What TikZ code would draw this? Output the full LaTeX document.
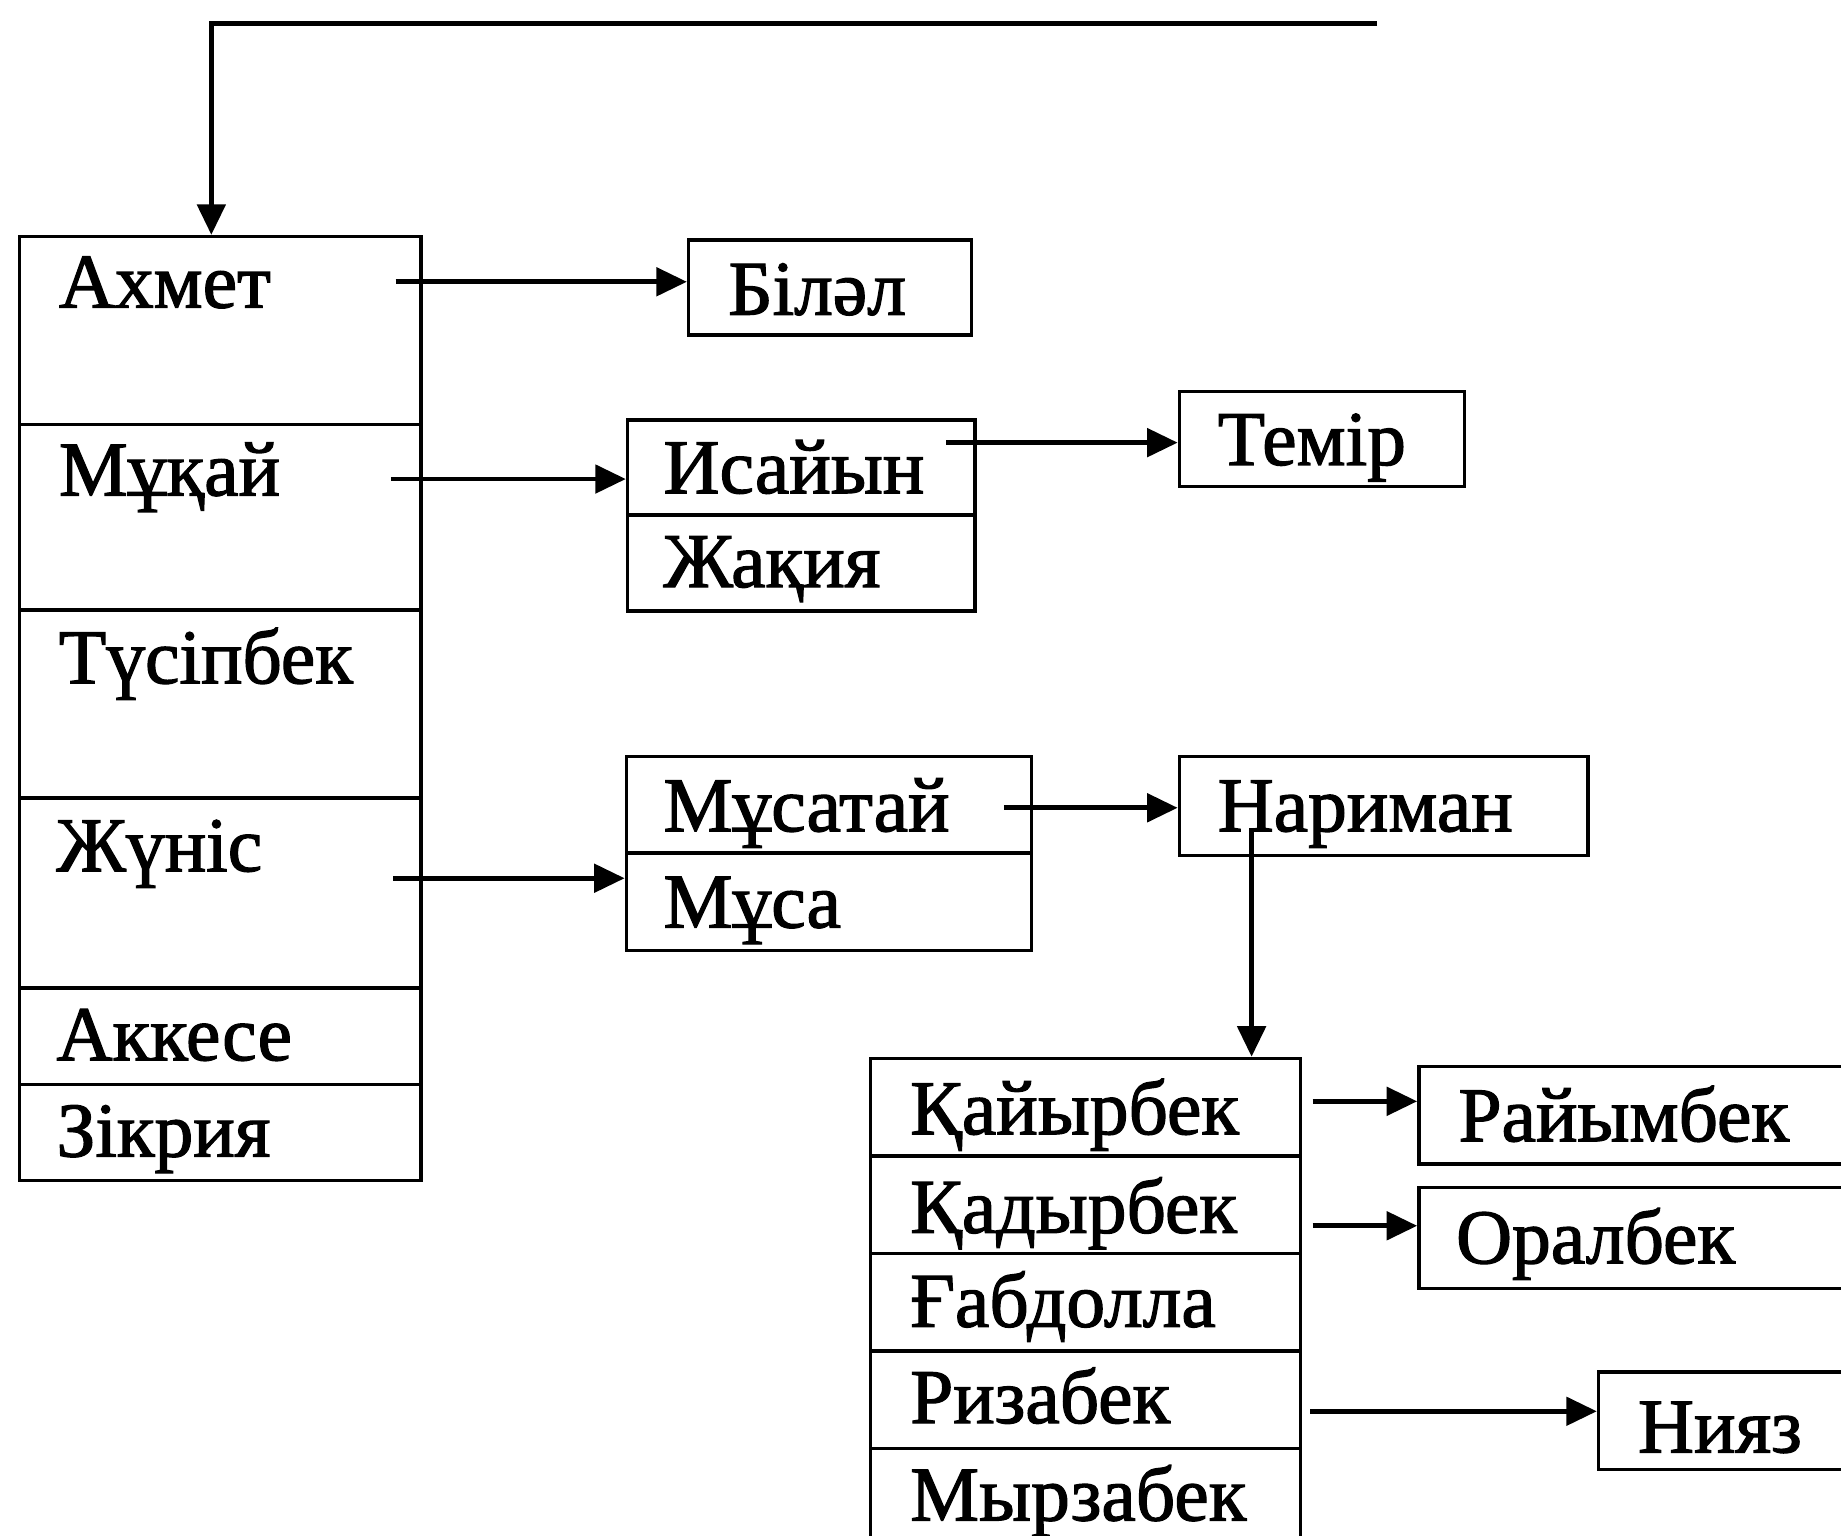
\documentclass[tikz,border=0pt]{standalone}
\usepackage{fontspec}
\setmainfont{Liberation Serif}
\newfontfamily\lblfont{Liberation Serif}[FakeBold=1.6]
\usetikzlibrary{arrows.meta,calc}
\begin{document}
\begin{tikzpicture}[x=1pt,y=-1pt,
  cellbox/.style={draw, line width=3pt, inner sep=0pt, anchor=north west},
  lbl/.style={anchor=base west, inner sep=0pt, font=\lblfont\fontsize{66}{72}\selectfont},
  arr/.style={line width=4pt, -{Triangle[length=26pt,width=24pt]}}]
\useasboundingbox (0,0) rectangle (1568,1308);
\clip (0,0) rectangle (1568,1308);
% left column
\node[cellbox, minimum width=342pt, minimum height=160pt] (ahmetc) at (15,200) {};
\node[cellbox, minimum width=342pt, minimum height=158pt] (mukaic) at (15,360) {};
\node[cellbox, minimum width=342pt, minimum height=160pt] (tusipc) at (15,518) {};
\node[cellbox, minimum width=342pt, minimum height=162pt] (zhunisc) at (15,678) {};
\node[cellbox, minimum width=342pt, minimum height=82pt] (akkesec) at (15,840) {};
\node[cellbox, minimum width=342pt, minimum height=82pt] (zikriyac) at (15,922) {};
\node[lbl] (ahmet) at (50,262) {Ахмет};
\node[lbl] (mukai) at (50,422) {Мұқай};
\node[lbl] (tusip) at (50,582) {Түсіпбек};
\node[lbl] (zhunis) at (48,742) {Жүніс};
\node[lbl] (akkese) at (48,903) {Аккесе};
\node[lbl] (zikriya) at (48,985) {Зікрия};
% second level
\node[cellbox, minimum width=241pt, minimum height=81pt] (bilalc) at (585,203) {};
\node[lbl] (bilal) at (620,268) {Білəл};
\node[cellbox, minimum width=296pt, minimum height=81pt] (isaiync) at (533,356) {};
\node[lbl] (isaiyn) at (565,420) {Исайын};
\node[cellbox, minimum width=296pt, minimum height=82pt] (zhakiyac) at (533,437) {};
\node[lbl] (zhakiya) at (565,500) {Жақия};
\node[cellbox, minimum width=243pt, minimum height=81pt] (temirc) at (1003,332) {};
\node[lbl] (temir) at (1037,396) {Темір};
\node[cellbox, minimum width=345pt, minimum height=82pt] (musatayc) at (532,643) {};
\node[lbl] (musatay) at (565,708) {Мұсатай};
\node[cellbox, minimum width=345pt, minimum height=83pt] (musac) at (532,725) {};
\node[lbl] (musa) at (565,790) {Мұса};
\node[cellbox, minimum width=348pt, minimum height=84pt] (narimanc) at (1003,643) {};
\node[lbl] (nariman) at (1037,708) {Нариман};
% lower column
\node[cellbox, minimum width=366pt, minimum height=83pt] (qaiyrc) at (740,900) {};
\node[cellbox, minimum width=366pt, minimum height=83pt] (qadyrc) at (740,983) {};
\node[cellbox, minimum width=366pt, minimum height=83pt] (gabdc) at (740,1066) {};
\node[cellbox, minimum width=366pt, minimum height=83pt] (rizac) at (740,1149) {};
\node[cellbox, minimum width=366pt, minimum height=100pt] (myrzac) at (740,1232) {};
\node[lbl] (qaiyr) at (775,966) {Қайырбек};
\node[lbl] (qadyr) at (775,1050) {Қадырбек};
\node[lbl] (gabd) at (775,1130) {Ғабдолла};
\node[lbl] (riza) at (775,1212) {Ризабек};
\node[lbl] (myrza) at (775,1295) {Мырзабек};
\node[cellbox, minimum width=400pt, minimum height=83pt] (raiymc) at (1207,907) {};
\node[lbl] (raiym) at (1242,972) {Райымбек};
\node[cellbox, minimum width=400pt, minimum height=86pt] (oralc) at (1207,1010) {};
\node[lbl] (oral) at (1240,1076) {Оралбек};
\node[cellbox, minimum width=300pt, minimum height=83pt] (niyazc) at (1360,1167) {};
\node[lbl] (niyaz) at (1395,1237) {Нияз};
% connectors
\coordinate (topend) at (1173,20);
\coordinate (topcorner) at (180,20);
\draw[arr] (topend) -- (topcorner) -- (topcorner |- ahmetc.north);
\coordinate (s1) at (337,240);
\draw[arr] (s1) -- (s1 -| bilalc.west);
\coordinate (s2) at (333,408);
\draw[arr] (s2) -- (s2 -| isaiync.west);
\coordinate (s3) at (806,377);
\draw[arr] (s3) -- (s3 -| temirc.west);
\coordinate (s4) at (335,748);
\draw[arr] (s4) -- (s4 -| musac.west);
\coordinate (s5) at (855,688);
\draw[arr] (s5) -- (s5 -| narimanc.west);
\coordinate (s6) at (1066,705);
\draw[arr] (s6) -- (s6 |- qaiyrc.north);
\coordinate (s7) at (1118,938);
\draw[arr] (s7) -- (s7 -| raiymc.west);
\coordinate (s8) at (1118,1044);
\draw[arr] (s8) -- (s8 -| oralc.west);
\coordinate (s9) at (1116,1202);
\draw[arr] (s9) -- (s9 -| niyazc.west);
\end{tikzpicture}
\end{document}
